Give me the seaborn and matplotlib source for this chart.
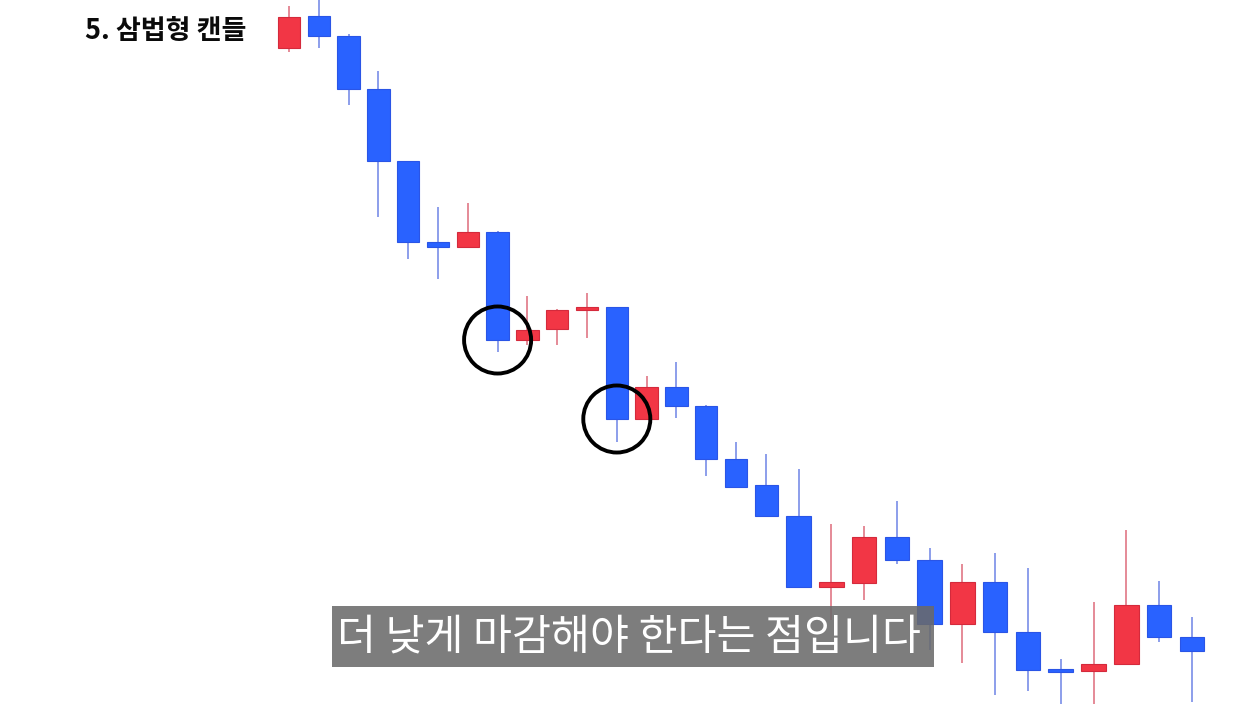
import numpy as np
import pandas as pd
import matplotlib
matplotlib.use("Agg")
import matplotlib.pyplot as plt
from matplotlib.patches import Rectangle
import seaborn as sns

# ---- data -------------------------------------------------------------
title_text = "5. 삼법형 캔들"
caption_text = "더 낮게 마감해야 한다는 점입니다"

candle_idx = list(range(30))
open_p  = [672, 704, 684, 631, 559, 478, 473, 488, 380, 391, 410, 413, 301, 333, 314, 261, 235, 204, 133, 137, 183, 160, 96, 138, 88, 51, 49, 56, 115, 83]
close_p = [703, 684, 631, 559, 478, 473, 488, 380, 390, 410, 413, 301, 333, 314, 261, 233, 204, 133, 138, 183, 160, 96, 138, 88, 50, 48, 56, 115, 83, 69]
high_p  = [714, 722, 686, 649, 559, 513, 517, 489, 424, 411, 427, 413, 344, 358, 315, 278, 266, 251, 196, 194, 219, 172, 156, 167, 152, 61, 118, 190, 139, 103]
low_p   = [668, 672, 615, 503, 461, 441, 473, 368, 375, 375, 382, 278, 301, 302, 244, 233, 203, 133, 100, 120, 156, 70, 57, 25, 29, 14, 14, 56, 78, 18]
marked_idx = [7, 11]   # candles circled in the reference

df = pd.DataFrame({"idx": candle_idx, "open": open_p, "close": close_p,
                   "high": high_p, "low": low_p})
df["up"] = df["close"] > df["open"]

# ---- style ------------------------------------------------------------
sns.set_theme(style="white")
plt.rcParams["font.family"] = ["Noto Sans CJK KR", "DejaVu Sans"]

RED, RED_EDGE, RED_WICK = "#F23645", "#D42A3C", "#E58A97"
BLUE, BLUE_EDGE, BLUE_WICK = "#2962FF", "#2A55E6", "#8C9EEB"

fig = plt.figure(figsize=(12.6, 7.04), dpi=100)
ax = fig.add_axes([0, 0, 1, 1])

# piecewise-linear horizontal scale (the reference's right part is spaced wider)
S1, S2, BRK = 29.8, 32.77, 16.0
def fwd(v):
    v = np.asarray(v, dtype=float)
    return np.where(v <= BRK, S1 * v, S1 * BRK + S2 * (v - BRK))
def inv(u):
    u = np.asarray(u, dtype=float)
    return np.where(u <= S1 * BRK, u / S1, BRK + (u - S1 * BRK) / S2)
ax.set_xscale("function", functions=(fwd, inv))

# wicks
wick_cols = [RED_WICK if u else BLUE_WICK for u in df["up"]]
ax.vlines(df["idx"], df["low"], df["high"], colors=wick_cols, linewidth=1.4, zorder=1)

# bodies
body_bottom = np.minimum(df["open"], df["close"])
body_h = np.maximum(np.abs(df["close"] - df["open"]), 2.5)
face = [RED if u else BLUE for u in df["up"]]
edge = [RED_EDGE if u else BLUE_EDGE for u in df["up"]]
ax.bar(df["idx"], body_h, bottom=body_bottom, width=0.75, color=face,
       edgecolor=edge, linewidth=0.8, zorder=2)

# circles around the marked candles' closes
mk = df.loc[df["idx"].isin(marked_idx)]
sns.scatterplot(x=mk["idx"], y=mk["close"], ax=ax, s=2330, marker="o",
                facecolors="none", edgecolor="black", linewidth=2.8, zorder=3,
                legend=False)

ax.set_xlim(inv(-289.0), inv(1260.0 - 289.0))
ax.set_ylim(16, 720)
ax.set_axis_off()

# title
fig.text(85 / 1260, 1 - 31 / 704, title_text, fontsize=19.5, fontweight="bold",
         color="#0a0a0a", ha="left", va="center")

# caption box
W, H = 1260, 704
fig.add_artist(Rectangle((332 / W, 1 - 667 / H), (934 - 332) / W, (667 - 606) / H,
                         transform=fig.transFigure, facecolor="#6a6a6a",
                         edgecolor="none", alpha=0.87, zorder=10))
fig.text(629 / W, 1 - 637 / H, caption_text, fontsize=30.5, color="white",
         ha="center", va="center", zorder=11)

fig.savefig("out.png", dpi=100)
